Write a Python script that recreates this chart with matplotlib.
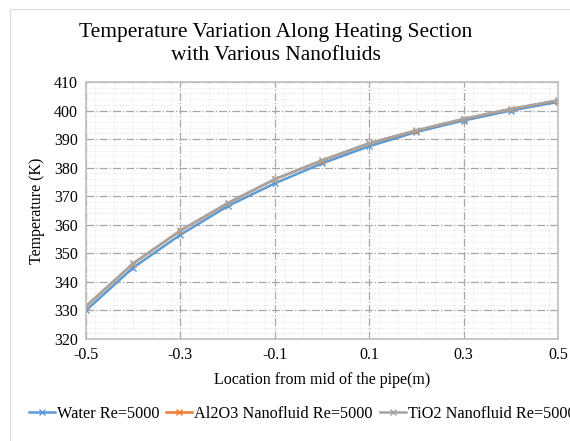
import numpy as np
import matplotlib.pyplot as plt
from matplotlib.patches import Rectangle
from matplotlib.ticker import MultipleLocator

plt.rcParams['font.family'] = ['Liberation Serif', 'DejaVu Serif']

location = [-0.5, -0.4, -0.3, -0.2, -0.1, 0.0, 0.1, 0.2, 0.3, 0.4, 0.5]
water = [330.0, 345.0, 356.5, 366.5, 374.5, 381.5, 387.5, 392.5, 396.5, 400.0, 403.0]
al2o3 = [331.4, 346.4, 357.9, 367.5, 375.9, 382.5, 388.5, 393.0, 397.0, 400.5, 403.5]
tio2 = [331.5, 346.5, 358.0, 367.6, 376.0, 382.6, 388.6, 393.1, 397.1, 400.6, 403.6]
labels = ["Water Re=5000", "Al2O3 Nanofluid Re=5000", "TiO2 Nanofluid Re=5000"]
colors = ["#5B9BD5", "#ED7D31", "#A5A5A5"]
xticks = [-0.5, -0.3, -0.1, 0.1, 0.3, 0.5]

fig = plt.figure(figsize=(5.7, 4.41), dpi=100)
fig.patches.append(Rectangle((10 / 570, -0.1), 1.2, 1 - 9 / 441 + 0.1, transform=fig.transFigure,
                             fill=False, edgecolor="#d9d9d9", linewidth=0.8))
ax = fig.add_axes([86 / 570, 1 - 339 / 441, (558 - 86) / 570, (339 - 82) / 441])

for y, lab, c in zip([water, al2o3, tio2], labels, colors):
    ax.plot(location, y, color=c, linewidth=1.8, marker="x", markersize=5,
            markeredgewidth=1.0, label=lab)

ax.set_xlim(-0.5, 0.5)
ax.set_ylim(320, 410)
ax.set_xticks(xticks)
ax.set_xticklabels([f"{v:g}" for v in xticks])
ax.xaxis.set_minor_locator(MultipleLocator(0.04))
ax.yaxis.set_major_locator(MultipleLocator(10))
ax.yaxis.set_minor_locator(MultipleLocator(2))
ax.grid(which="minor", color="#e4e4e4", linestyle=":", linewidth=0.7)
ax.grid(which="major", color="#a6a6a6", linestyle="-.", linewidth=0.9)
ax.set_axisbelow(True)
ax.tick_params(which="both", length=0, labelsize=11.5, pad=6)
for s in ax.spines.values():
    s.set_color("#bfbfbf")
    s.set_linewidth(1.2)

ax.set_xlabel("Location from mid of the pipe(m)", fontsize=11.5, labelpad=6)
ax.set_ylabel("Temperature (K)", fontsize=11.5, labelpad=6)
fig.text(276 / 570, 1 - 44 / 441, "Temperature Variation Along Heating Section\nwith Various Nanofluids",
         ha="center", va="center", fontsize=15.5, linespacing=1.3)

fig.legend(loc="center left", bbox_to_anchor=(14 / 570, 1 - 414 / 441), ncol=3, frameon=False,
           fontsize=11.7, handlelength=1.6, handletextpad=0.15, columnspacing=0.4,
           markerscale=0.8)

fig.savefig("out.png", dpi=100)
